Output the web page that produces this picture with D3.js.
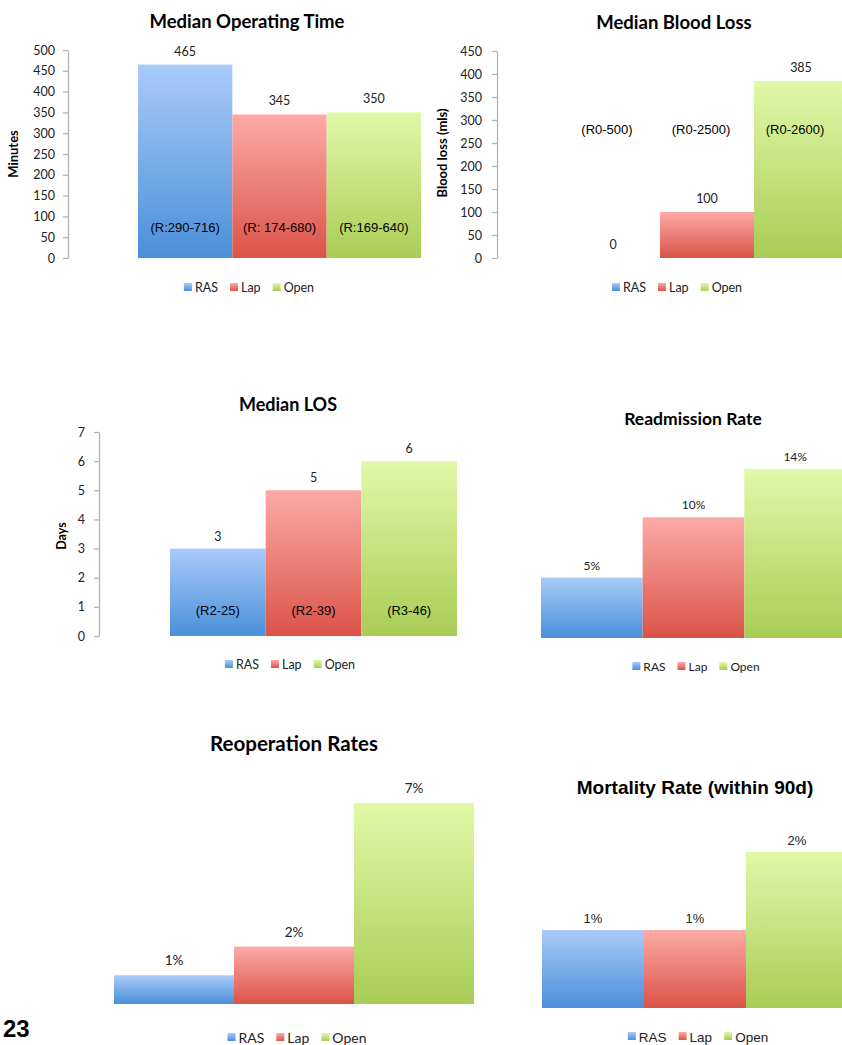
<!DOCTYPE html>
<html>
<head>
<meta charset="utf-8">
<script src="https://cdn.jsdelivr.net/npm/d3@7"></script>
<style>
  html, body { margin: 0; padding: 0; background: #fff; }
  svg { display: block; }
</style>
</head>
<body>
<svg id="page" width="842" height="1045"></svg>
<script>
// ---- data ----
const groups = ["RAS", "Lap", "Open"];

const opTimeValues = [465, 345, 350];
const opTimeRanges = ["(R:290-716)", "(R: 174-680)", "(R:169-640)"];
const opTimeTicks = [0, 50, 100, 150, 200, 250, 300, 350, 400, 450, 500];

const bloodLossValues = [0, 100, 385];
const bloodLossRanges = ["(R0-500)", "(R0-2500)", "(R0-2600)"];
const bloodLossTicks = [0, 50, 100, 150, 200, 250, 300, 350, 400, 450];

const losValues = [3, 5, 6];
const losRanges = ["(R2-25)", "(R2-39)", "(R3-46)"];
const losTicks = [0, 1, 2, 3, 4, 5, 6, 7];

const readmissionValues = [5, 10, 14];
const reoperationValues = [1, 2, 7];
const mortalityValues = [1, 1, 2];

// ---- styling ----
const CAL = "Lato, 'Open Sans', sans-serif";
const ARIAL = "'Liberation Sans', Arial, sans-serif";
const gradStops = {
  RAS:  ["#a9cbf9", "#4a8fd9"],
  Lap:  ["#fcaaa7", "#db5347"],
  Open: ["#e1f8a8", "#a8cd55"]
};

const svg = d3.select("#page");
svg.append("rect").attr("width", 842).attr("height", 1045).attr("fill", "#fff");

const defs = svg.append("defs");
groups.forEach(g => {
  const lg = defs.append("linearGradient")
    .attr("id", "grad-" + g)
    .attr("x1", 0).attr("y1", 0).attr("x2", 0).attr("y2", 1);
  lg.append("stop").attr("offset", "0%").attr("stop-color", gradStops[g][0]);
  lg.append("stop").attr("offset", "100%").attr("stop-color", gradStops[g][1]);
});

function barChart(cfg) {
  const root = svg.append("g");

  const x = d3.scaleBand().domain(groups).range(cfg.band).paddingInner(0).paddingOuter(0);
  const y = d3.scaleLinear().domain(cfg.yDomain).range(cfg.yRange);

  // title
  root.append("text")
    .attr("x", cfg.title.x).attr("y", cfg.title.y)
    .attr("text-anchor", "middle")
    .attr("font-family", cfg.title.font || CAL)
    .attr("font-weight", "bold")
    .attr("font-size", cfg.title.size)
    .attr("fill", "#000")
    .text(cfg.title.text);

  // y axis
  if (cfg.axis) {
    const ax = d3.axisLeft(y)
      .tickValues(cfg.axis.ticks)
      .tickFormat(d3.format("d"))
      .tickSize(5).tickSizeOuter(0).tickPadding(cfg.axis.pad);
    const ag = root.append("g").attr("transform", `translate(${cfg.axis.x},0)`).call(ax);
    ag.select(".domain").attr("stroke", "#b4b4b4").attr("stroke-width", 1.3);
    ag.selectAll(".tick line").attr("stroke", "#b4b4b4").attr("stroke-width", 1.3);
    ag.selectAll(".tick text")
      .attr("font-family", CAL).attr("font-size", 12.5).attr("fill", "#222");
    root.append("text")
      .attr("transform", `translate(${cfg.axis.titleX},${cfg.axis.titleY}) rotate(-90)`)
      .attr("text-anchor", "middle")
      .attr("font-family", CAL).attr("font-weight", "bold").attr("font-size", cfg.axis.titleSize)
      .attr("fill", "#000")
      .text(cfg.axis.title);
  }

  // bars
  const data = groups.map((g, i) => ({ g, v: cfg.values[i], label: cfg.labels[i], range: cfg.ranges ? cfg.ranges[i] : null }));
  root.selectAll("rect.bar").data(data).enter().append("rect")
    .attr("class", "bar")
    .attr("x", d => x(d.g))
    .attr("y", d => y(d.v))
    .attr("width", x.bandwidth())
    .attr("height", d => y(0) - y(d.v))
    .attr("fill", d => `url(#grad-${d.g})`);

  // value labels
  root.selectAll("text.val").data(data).enter().append("text")
    .attr("class", "val")
    .attr("x", d => x(d.g) + x.bandwidth() / 2)
    .attr("y", d => y(d.v) - cfg.labelGap)
    .attr("text-anchor", "middle")
    .attr("font-family", cfg.labelFont || CAL)
    .attr("font-size", cfg.labelSize)
    .attr("fill", "#222")
    .text(d => d.label);

  // range annotations
  if (cfg.ranges) {
    root.selectAll("text.rng").data(data).enter().append("text")
      .attr("class", "rng")
      .attr("x", d => x(d.g) + x.bandwidth() / 2 + (cfg.rangeDx || 0))
      .attr("y", cfg.rangeY)
      .attr("text-anchor", "middle")
      .attr("font-family", ARIAL)
      .attr("font-size", 13)
      .attr("fill", "#000")
      .text(d => d.range);
  }

  // legend (centered row)
  const lg = root.append("g");
  const sq = 8, gapIn = 3, gapOut = 12;
  let cx = 0;
  groups.forEach(g => {
    const item = lg.append("g").attr("transform", `translate(${cx},0)`);
    item.append("rect").attr("x", 0).attr("y", -sq / 2 - 1).attr("width", sq).attr("height", sq)
      .attr("fill", `url(#grad-${g})`);
    const t = item.append("text")
      .attr("x", sq + gapIn).attr("y", 0).attr("dy", "0.35em")
      .attr("font-family", cfg.legend.font || CAL)
      .attr("font-size", cfg.legend.size)
      .attr("fill", "#222")
      .text(g);
    cx += sq + gapIn + t.node().getComputedTextLength() + gapOut;
  });
  const total = cx - gapOut;
  lg.attr("transform", `translate(${cfg.legend.cx - total / 2},${cfg.legend.y})`);
}

const pctLabels = vals => vals.map(v => v + "%");

barChart({
  title: { text: "Median Operating Time", x: 247, y: 28, size: 18.5 },
  values: opTimeValues, labels: opTimeValues.map(String), ranges: opTimeRanges, rangeY: 232,
  band: [138, 421], yDomain: [0, 500], yRange: [258, 50],
  axis: { x: 68, ticks: opTimeTicks, pad: 8, title: "Minutes", titleX: 18, titleY: 154, titleSize: 13 },
  labelGap: 9, labelSize: 12.5,
  legend: { cx: 249, y: 288, size: 12.5 }
});

barChart({
  title: { text: "Median Blood Loss", x: 674, y: 29, size: 18.5 },
  values: bloodLossValues, labels: bloodLossValues.map(String), ranges: bloodLossRanges, rangeY: 134, rangeDx: -6,
  band: [566, 848], yDomain: [0, 450], yRange: [258, 51],
  axis: { x: 497, ticks: bloodLossTicks, pad: 10, title: "Blood loss (mls)", titleX: 447, titleY: 153, titleSize: 13 },
  labelGap: 9, labelSize: 12.5,
  legend: { cx: 677, y: 288, size: 12.5 }
});

barChart({
  title: { text: "Median LOS", x: 288, y: 411, size: 18 },
  values: losValues, labels: losValues.map(String), ranges: losRanges, rangeY: 615,
  band: [170, 457], yDomain: [0, 7], yRange: [636, 432],
  axis: { x: 99, ticks: losTicks, pad: 9, title: "Days", titleX: 66, titleY: 536, titleSize: 12.5 },
  labelGap: 8, labelSize: 12.5,
  legend: { cx: 290, y: 665, size: 12.5 }
});

barChart({
  title: { text: "Readmission Rate", x: 693, y: 425, size: 17.5 },
  values: readmissionValues, labels: pctLabels(readmissionValues),
  band: [541, 846], yDomain: [0, 14], yRange: [638, 469],
  labelGap: 8, labelSize: 12,
  legend: { cx: 696, y: 667, size: 12 }
});

barChart({
  title: { text: "Reoperation Rates", x: 294, y: 751, size: 20.5 },
  values: reoperationValues, labels: pctLabels(reoperationValues),
  band: [114, 474], yDomain: [0, 7], yRange: [1004, 803],
  labelGap: 10, labelSize: 13.5,
  legend: { cx: 297, y: 1038, size: 14 }
});

barChart({
  title: { text: "Mortality Rate (within 90d)", x: 695, y: 794, size: 19, font: ARIAL },
  values: mortalityValues, labels: pctLabels(mortalityValues),
  band: [542, 848], yDomain: [0, 2], yRange: [1008, 852],
  labelGap: 7, labelSize: 13, labelFont: ARIAL,
  legend: { cx: 698, y: 1037, size: 13.5, font: ARIAL }
});

// page number in the lower-left corner
svg.append("text")
  .attr("x", 3).attr("y", 1037)
  .attr("font-family", ARIAL).attr("font-weight", "bold").attr("font-size", 24)
  .attr("fill", "#000")
  .text("23");
</script>
</body>
</html>
